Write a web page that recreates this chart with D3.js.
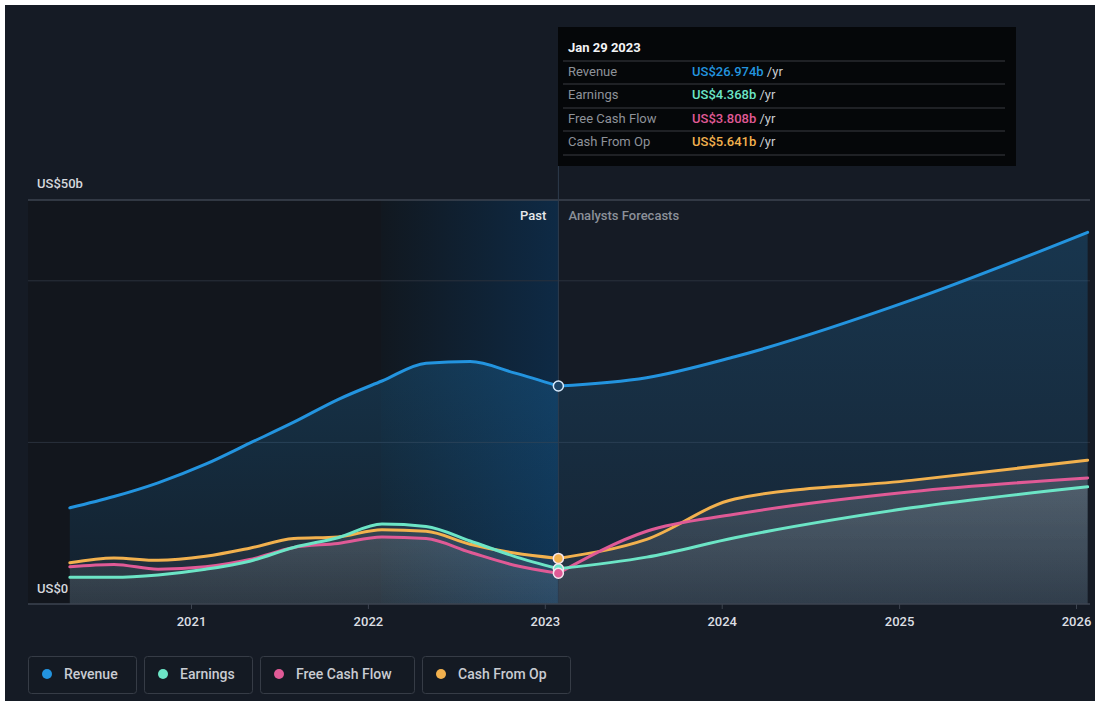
<!DOCTYPE html>
<html lang="en">
<head>
  <meta charset="UTF-8">
  <title>Revenue and earnings</title>
  <script src="https://cdn.jsdelivr.net/npm/d3@7"></script>
  <style>
    body { margin: 0; background: #ffffff; }
    text { font-family: Roboto, "Noto Sans", sans-serif; }
  </style>
</head>
<body>
  <svg width="1100" height="706"></svg>
  <script>
    // data (US$ billions, trailing twelve months + analyst forecasts)
    var dates = ["2020-04-26", "2020-07-26", "2020-10-25", "2021-01-31", "2021-05-02", "2021-08-01",
      "2021-10-31", "2022-01-30", "2022-05-01", "2022-07-31", "2022-10-30", "2023-01-29",
      "2023-07-30", "2024-01-28", "2025-01-26", "2026-01-25"];
    var revenue = [11.9, 13.3, 15.0, 17.3, 19.9, 22.5, 25.3, 27.6, 29.8, 30.0, 28.6, 26.974, 28.0, 30.6, 37.6, 46.0];
    var earnings = [3.3, 3.3, 3.6, 4.3, 5.3, 7.0, 8.2, 9.9, 9.6, 7.8, 5.9, 4.368, 5.8, 8.2, 11.9, 14.5];
    var freeCashFlow = [4.6, 4.9, 4.3, 4.6, 5.5, 7.0, 7.5, 8.3, 8.1, 6.4, 4.8, 3.808, 9.0, 11.1, 13.9, 15.6];
    var cashFromOp = [5.1, 5.7, 5.4, 5.9, 6.9, 8.1, 8.3, 9.2, 9.0, 7.4, 6.3, 5.641, 8.0, 13.0, 15.3, 17.8];
    var yearTicks = ["2021", "2022", "2023", "2024", "2025", "2026"];
    var yLabels = ["US$0", "US$50b"];
    var seriesNames = ["Revenue", "Earnings", "Free Cash Flow", "Cash From Op"];
    var seriesColors = ["#2394df", "#6ce5c6", "#e05a96", "#f2b14e"];
    var nowDate = "2023-01-29";
    var nowLabel = "Jan 29 2023";
    var pastStart = "2022-01-29";

    var parse = d3.timeParse("%Y-%m-%d");
    var svg = d3.select("svg");

    // frame
    svg.append("rect").attr("x", 5).attr("y", 5).attr("width", 1090).attr("height", 696).attr("fill", "#151b25");

    var x = d3.scaleTime()
      .domain([parse("2021-01-01"), parse("2026-01-01")])
      .range([191, 1076]);
    var y = d3.scaleLinear().domain([0, 50]).range([604, 200]);
    var left = 28, right = 1090;

    var defs = svg.append("defs");
    var g1 = defs.append("linearGradient").attr("id", "pastBand").attr("x1", 0).attr("x2", 1).attr("y1", 0).attr("y2", 0);
    g1.append("stop").attr("offset", "0%").attr("stop-color", "#111820");
    g1.append("stop").attr("offset", "100%").attr("stop-color", "#0e2a45");
    var g2 = defs.append("linearGradient").attr("id", "revFill").attr("x1", 0).attr("x2", 0).attr("y1", 0).attr("y2", 1);
    g2.append("stop").attr("offset", "0%").attr("stop-color", "#2394df").attr("stop-opacity", 0.22);
    g2.append("stop").attr("offset", "100%").attr("stop-color", "#2394df").attr("stop-opacity", 0.08);
    var g3 = defs.append("linearGradient").attr("id", "subFill").attr("gradientUnits", "userSpaceOnUse")
      .attr("x1", 0).attr("x2", 0).attr("y1", 460).attr("y2", 604);
    g3.append("stop").attr("offset", "0%").attr("stop-color", "#ffffff").attr("stop-opacity", 0.1);
    g3.append("stop").attr("offset", "100%").attr("stop-color", "#ffffff").attr("stop-opacity", 0.04);

    var xNow = x(parse(nowDate));
    var xPast = x(parse(pastStart));
    var iNow = dates.indexOf(nowDate);

    // past background regions
    svg.append("rect").attr("x", left).attr("y", 200).attr("width", xPast - left).attr("height", 404).attr("fill", "#12161d");
    svg.append("rect").attr("x", xPast).attr("y", 200).attr("width", xNow - xPast).attr("height", 404).attr("fill", "url(#pastBand)");

    // grid
    svg.selectAll(".grid").data([20, 40]).enter().append("line")
      .attr("x1", left).attr("x2", right)
      .attr("y1", function (d) { return y(d); }).attr("y2", function (d) { return y(d); })
      .attr("stroke", "#2a313c").attr("stroke-width", 1);
    svg.append("line").attr("x1", left).attr("x2", right).attr("y1", y(50)).attr("y2", y(50))
      .attr("stroke", "#3d4450").attr("stroke-width", 1.5);

    var allSeries = [revenue, earnings, freeCashFlow, cashFromOp].map(function (vals, i) {
      var pts = vals.map(function (v, j) { return { date: parse(dates[j]), value: v }; });
      return {
        name: seriesNames[i], color: seriesColors[i], values: pts,
        past: pts.slice(0, iNow + 1), future: pts.slice(iNow)
      };
    });

    var area = d3.area().curve(d3.curveMonotoneX)
      .x(function (d) { return x(d.date); })
      .y0(y(0))
      .y1(function (d) { return y(d.value); });
    var line = d3.line().curve(d3.curveMonotoneX)
      .x(function (d) { return x(d.date); })
      .y(function (d) { return y(d.value); });

    // areas (past and forecast drawn as two pieces)
    ["past", "future"].forEach(function (part) {
      svg.append("path").attr("d", area(allSeries[0][part])).attr("fill", "url(#revFill)");
      allSeries.slice(1).forEach(function (s) {
        svg.append("path").attr("d", area(s[part])).attr("fill", "url(#subFill)");
      });
    });

    // lines
    allSeries.slice().reverse().forEach(function (s) {
      ["past", "future"].forEach(function (part) {
        svg.append("path").attr("d", line(s[part])).attr("fill", "none")
          .attr("stroke", s.color).attr("stroke-width", 3).attr("stroke-linecap", "round");
      });
    });

    // now line
    svg.append("line").attr("x1", xNow).attr("x2", xNow).attr("y1", 166).attr("y2", 604)
      .attr("stroke", "#2e3c4d").attr("stroke-width", 1);

    // axis
    var xAxis = d3.axisBottom(x)
      .tickValues(yearTicks.map(function (t) { return parse(t + "-01-01"); }))
      .tickFormat(d3.timeFormat("%Y"))
      .tickSize(5).tickPadding(8);
    var ax = svg.append("g").attr("transform", "translate(0,604)").call(xAxis);
    ax.select(".domain").remove();
    ax.selectAll(".tick line").attr("stroke", "#3d4450");
    ax.selectAll(".tick text").attr("fill", "#dcdfe3").attr("font-size", 13).attr("font-weight", 500);
    svg.append("line").attr("x1", left).attr("x2", right).attr("y1", 604).attr("y2", 604)
      .attr("stroke", "#3d4450").attr("stroke-width", 1.5);

    svg.append("text").attr("x", 37).attr("y", 188).text(yLabels[1])
      .attr("fill", "#d5d8dd").attr("font-size", 13).attr("font-weight", 500);
    svg.append("text").attr("x", 37).attr("y", 593).text(yLabels[0])
      .attr("fill", "#d5d8dd").attr("font-size", 13).attr("font-weight", 500);

    svg.append("text").attr("x", xNow - 12).attr("y", 220).attr("text-anchor", "end").text("Past")
      .attr("fill", "#e6e8eb").attr("font-size", 13).attr("font-weight", 500);
    svg.append("text").attr("x", xNow + 10).attr("y", 220).text("Analysts Forecasts")
      .attr("fill", "#8b9099").attr("font-size", 13).attr("font-weight", 500);

    // markers at now
    allSeries.forEach(function (s, i) {
      var v = s.values[iNow].value;
      svg.append("circle").attr("cx", xNow).attr("cy", y(v)).attr("r", 5)
        .attr("fill", i === 0 ? "#1d4466" : s.color)
        .attr("stroke", i === 0 ? "#d8ecff" : "#f4e6ee").attr("stroke-width", 1.5);
    });

    // tooltip
    var tip = svg.append("g").attr("transform", "translate(558,27)");
    tip.append("rect").attr("width", 458).attr("height", 139).attr("fill", "#050709");
    tip.append("text").attr("x", 10).attr("y", 25).text(nowLabel)
      .attr("fill", "#f2f3f5").attr("font-size", 13).attr("font-weight", 700);
    var rowY = [34, 57, 81, 104, 128];
    rowY.forEach(function (ry) {
      tip.append("line").attr("x1", 5).attr("x2", 447).attr("y1", ry).attr("y2", ry)
        .attr("stroke", "#3a3d42").attr("stroke-width", 1);
    });
    allSeries.forEach(function (s, i) {
      var v = s.values[iNow].value;
      var ty = rowY[i] + 15;
      tip.append("text").attr("x", 10).attr("y", ty).text(s.name)
        .attr("fill", "#8e9299").attr("font-size", 13);
      var t = tip.append("text").attr("x", 134).attr("y", ty).attr("font-size", 13);
      t.append("tspan").text("US$" + d3.format(".3f")(v) + "b").attr("fill", s.color).attr("font-weight", 500);
      t.append("tspan").text(" /yr").attr("fill", "#c9ccd1");
    });

    // legend
    var legendX = [28, 144, 260, 422];
    var legendW = [108, 108, 154, 148];
    allSeries.forEach(function (s, i) {
      var lg = svg.append("g").attr("transform", "translate(" + legendX[i] + ",656)");
      lg.append("rect").attr("x", 0.5).attr("y", 0.5).attr("width", legendW[i]).attr("height", 37)
        .attr("rx", 3).attr("fill", "#141a23").attr("stroke", "#363c46");
      lg.append("circle").attr("cx", 19).attr("cy", 18).attr("r", 5).attr("fill", s.color);
      lg.append("text").attr("x", 36).attr("y", 23).text(s.name)
        .attr("fill", "#c9ccd2").attr("font-size", 14).attr("font-weight", 500);
    });
  </script>
</body>
</html>
